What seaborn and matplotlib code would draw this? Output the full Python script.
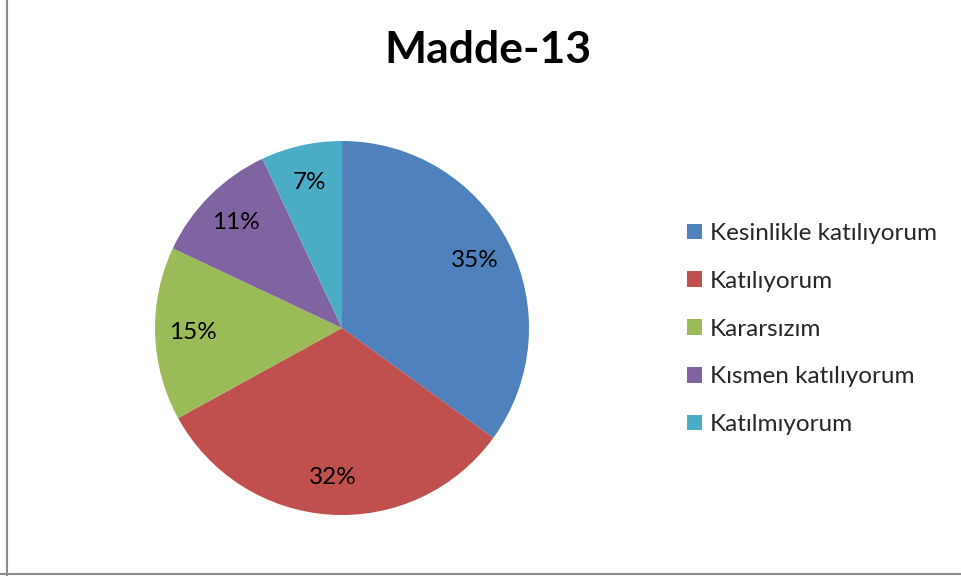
import matplotlib
matplotlib.use("Agg")
import matplotlib.pyplot as plt
import seaborn as sb
from matplotlib.patches import Patch
from matplotlib.lines import Line2D

categories = ["Kesinlikle katılıyorum", "Katılıyorum", "Kararsızım",
              "Kısmen katılıyorum", "Katılmıyorum"]
percentages = [35, 32, 15, 11, 7]
title = "Madde-13"
colors = ["#4F81BD", "#C0504D", "#9BBB59", "#8064A2", "#4BACC6"]

sb.set_theme(style="white")
plt.rcParams["font.family"] = ["Lato", "DejaVu Sans"]

W, H = 961, 576
fig = plt.figure(figsize=(W / 100, H / 100), dpi=100)
fig.patch.set_facecolor("white")

# pie area: center (342, 328), radius 187 px
cx, cy, r = 342, 328, 187
ax = fig.add_axes([(cx - r) / W, (H - cy - r) / H, 2 * r / W, 2 * r / H])
wedges, texts, autotexts = ax.pie(
    percentages, colors=sb.color_palette(colors), startangle=90,
    counterclock=False, autopct="%d%%", pctdistance=0.8,
    wedgeprops=dict(linewidth=0), textprops=dict(fontsize=17.5, color="black"))
ax.set_xlim(-1, 1)
ax.set_ylim(-1, 1)
ax.set_aspect("equal")
ax.axis("off")

fig.text(488 / W, 1 - 50 / H, title, ha="center", va="center",
         fontsize=32, fontweight="bold", color="black")

handles = [Patch(facecolor=c, edgecolor="none") for c in colors]
fig.legend(handles, categories, loc="center left",
           bbox_to_anchor=(687 / W, 1 - 329 / H), frameon=False,
           fontsize=17.5, handlelength=0.62, handleheight=0.62,
           handletextpad=0.33, labelspacing=1.1, borderaxespad=0,
           borderpad=0)

# chart border (only left and bottom visible in the reference)
fig.add_artist(Line2D([7 / W, 7 / W], [0, 1], transform=fig.transFigure,
                      color="#8c8c8c", linewidth=1.5))
fig.add_artist(Line2D([0, 1], [1 - 574 / H, 1 - 574 / H], transform=fig.transFigure,
                      color="#8c8c8c", linewidth=1.5))

fig.savefig("out.png", dpi=100)
